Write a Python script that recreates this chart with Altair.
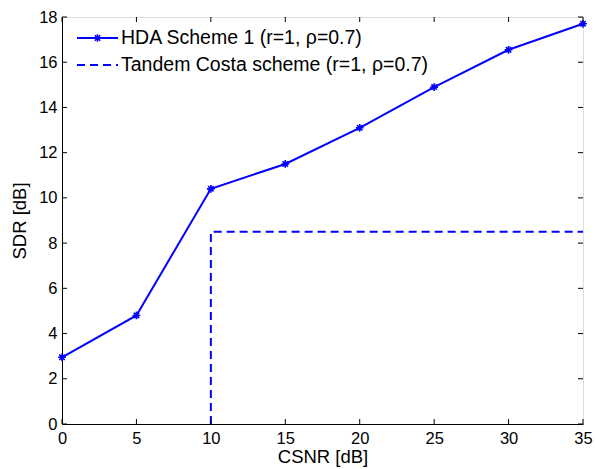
import altair as alt
import pandas as pd

csnr = [0, 5, 10, 15, 20, 25, 30, 35]
hda = [2.95, 4.8, 10.4, 11.5, 13.1, 14.9, 16.55, 17.7]
tandem_x = [10, 10, 35]
tandem_y = [0, 8.5, 8.5]
x_ticks = [0, 5, 10, 15, 20, 25, 30, 35]
y_ticks = [0, 2, 4, 6, 8, 10, 12, 14, 16, 18]
labels = ["HDA Scheme 1 (r=1, \u03c1=0.7)", "Tandem Costa scheme (r=1, \u03c1=0.7)"]

W, H = 521, 407
FONT = "Liberation Sans"
BLUE = "#0000ff"
xs = alt.Scale(domain=[0, 35], nice=False, zero=False)
ys = alt.Scale(domain=[0, 18], nice=False, zero=False)

df_hda = pd.DataFrame({"x": csnr, "y": hda})
df_tan = pd.DataFrame({"x": tandem_x, "y": tandem_y, "o": list(range(len(tandem_x)))})
df_xt = pd.DataFrame({"t": x_ticks})
df_yt = pd.DataFrame({"t": y_ticks})
one = pd.DataFrame({"k": [0]})

star = "M-1,0L1,0M0,-1L0,1M-0.7,-0.7L0.7,0.7M-0.7,0.7L0.7,-0.7"

xaxis = alt.Axis(values=x_ticks, tickSize=0, grid=False, labelFont=FONT, labelFontSize=16.5,
                 labelColor="black", labelPadding=6, labelFlush=False, domainColor="black",
                 title="CSNR [dB]", titleFont=FONT, titleFontSize=18.5, titleFontWeight="normal",
                 titleColor="black", titlePadding=1)
yaxis = alt.Axis(values=y_ticks, tickSize=0, grid=False, labelFont=FONT, labelFontSize=16.5,
                 labelColor="black", labelPadding=5, labelFlush=False, domainColor="black",
                 title="SDR [dB]", titleFont=FONT, titleFontSize=18.5, titleFontWeight="normal",
                 titleColor="black", titlePadding=9)

hda_line = alt.Chart(df_hda).mark_line(color=BLUE, strokeWidth=2).encode(
    x=alt.X("x:Q", scale=xs, axis=xaxis),
    y=alt.Y("y:Q", scale=ys, axis=yaxis),
)
hda_pts = alt.Chart(df_hda).mark_point(shape=star, color=BLUE, size=60, strokeWidth=1.6, filled=False, opacity=1).encode(
    x=alt.X("x:Q", scale=xs), y=alt.Y("y:Q", scale=ys)
)
tan_line = alt.Chart(df_tan).mark_line(color=BLUE, strokeWidth=2, strokeDash=[8, 5]).encode(
    x=alt.X("x:Q", scale=xs), y=alt.Y("y:Q", scale=ys), order="o:Q"
)

tick_style = dict(color="black", strokeWidth=1)
xt_bot = alt.Chart(df_xt).mark_rule(**tick_style).encode(
    x=alt.X("t:Q", scale=xs), y=alt.value(H), y2=alt.value(H - 5))
xt_top = alt.Chart(df_xt).mark_rule(**tick_style).encode(
    x=alt.X("t:Q", scale=xs), y=alt.value(0), y2=alt.value(5))
yt_left = alt.Chart(df_yt).mark_rule(**tick_style).encode(
    y=alt.Y("t:Q", scale=ys), x=alt.value(0), x2=alt.value(5))
yt_right = alt.Chart(df_yt).mark_rule(**tick_style).encode(
    y=alt.Y("t:Q", scale=ys), x=alt.value(W), x2=alt.value(W - 5))

# legend (no box)
leg_l1 = alt.Chart(one).mark_rule(color=BLUE, strokeWidth=2).encode(
    x=alt.value(15), x2=alt.value(56), y=alt.value(21))
leg_p1 = alt.Chart(one).mark_point(shape=star, color=BLUE, size=60, strokeWidth=1.6, filled=False, opacity=1).encode(
    x=alt.value(35.5), y=alt.value(21))
leg_l2 = alt.Chart(one).mark_rule(color=BLUE, strokeWidth=2, strokeDash=[8, 5]).encode(
    x=alt.value(15), x2=alt.value(56), y=alt.value(48))
leg_t1 = alt.Chart(one).mark_text(text=labels[0], font=FONT, fontSize=19.5, align="left",
                                  baseline="middle", color="black").encode(
    x=alt.value(59), y=alt.value(21))
leg_t2 = alt.Chart(one).mark_text(text=labels[1], font=FONT, fontSize=19.5, align="left",
                                  baseline="middle", color="black").encode(
    x=alt.value(59), y=alt.value(48))

chart = alt.layer(
    tan_line, hda_line, hda_pts, xt_bot, xt_top, yt_left, yt_right,
    leg_l1, leg_p1, leg_l2, leg_t1, leg_t2
).properties(
    width=W, height=H,
    autosize=alt.AutoSizeParams(type="none"),
    padding={"left": 62, "top": 17, "right": 12, "bottom": 45},
).configure_view(stroke="black", strokeWidth=1).configure(background="white")

chart.save("out.html", embed_options={"renderer": "svg", "actions": False})
